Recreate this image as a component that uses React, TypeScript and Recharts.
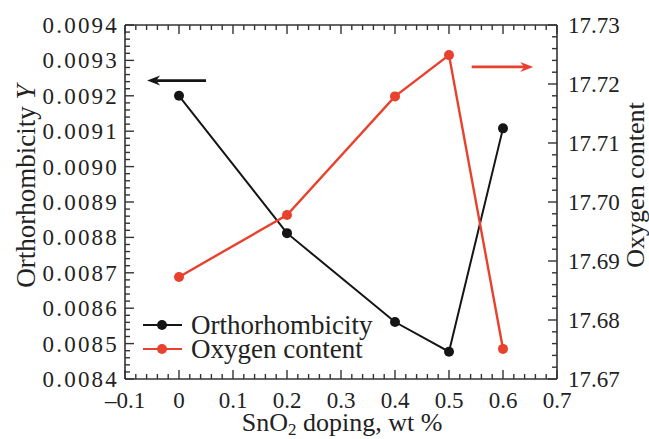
import React from 'react';
import { LineChart, Line, XAxis, YAxis, ReferenceLine, Legend } from 'recharts';

// ---- data ----
const dopingWt = [0, 0.2, 0.4, 0.5, 0.6];
const orthorhombicity = [0.0092, 0.008812, 0.008561, 0.008477, 0.009108];
const oxygenContent = [17.6873, 17.6978, 17.7179, 17.7249, 17.6751];

// ---- tick labels ----
const xMajorTicks = [-0.1, 0, 0.1, 0.2, 0.3, 0.4, 0.5, 0.6, 0.7];
const xTickLabels = ['\u20130.1', '0', '0.1', '0.2', '0.3', '0.4', '0.5', '0.6', '0.7'];
const leftMajorTicks = [0.0084, 0.0085, 0.0086, 0.0087, 0.0088, 0.0089, 0.009, 0.0091, 0.0092, 0.0093, 0.0094];
const leftTickLabels = ['0.0084', '0.0085', '0.0086', '0.0087', '0.0088', '0.0089', '0.0090', '0.0091', '0.0092', '0.0093', '0.0094'];
const rightMajorTicks = [17.67, 17.68, 17.69, 17.7, 17.71, 17.72, 17.73];
const rightTickLabels = ['17.67', '17.68', '17.69', '17.70', '17.71', '17.72', '17.73'];

// arrows (annotation) in data coordinates
const leftArrowX = [0.05, -0.059];
const leftArrowY = 0.009243;
const rightArrowX = [0.542, 0.656];
const rightArrowY = 17.7229;

const BLACK = '#151515';
const RED = '#e8412e';
const AXIS = '#333333';
const FONT = "'Liberation Serif', 'Times New Roman', 'DejaVu Serif', serif";
const TXT: React.CSSProperties = { fontFamily: FONT };

const data = dopingWt.map((x, i) => ({ x, orth: orthorhombicity[i], oxy: oxygenContent[i] }));

const subdivide = (majors: number[], n: number) => {
  const out: number[] = [];
  for (let i = 0; i < majors.length - 1; i++) {
    for (let k = 0; k < n; k++) {
      out.push(Number((majors[i] + ((majors[i + 1] - majors[i]) * k) / n).toFixed(8)));
    }
  }
  out.push(majors[majors.length - 1]);
  return out;
};

const xTicks = subdivide(xMajorTicks, 5);
const leftTicks = subdivide(leftMajorTicks, 5);
const rightTicks = subdivide(rightMajorTicks, 5);

const majorIndex = (majors: number[], v: number) => majors.findIndex((m) => Math.abs(m - v) < 1e-9);

const BottomTick = (props: any) => {
  const { x, y, payload } = props;
  const idx = majorIndex(xMajorTicks, payload.value);
  const len = idx >= 0 ? 9 : 5;
  return (
    <g>
      <line x1={x} x2={x} y1={y} y2={y - len} stroke={AXIS} strokeWidth={1.4} />
      {idx >= 0 && (
        <text x={x} y={y + 29} textAnchor="middle" fontSize={23} style={TXT} fill="#222">
          {xTickLabels[idx]}
        </text>
      )}
    </g>
  );
};

const TopTick = (props: any) => {
  const { x, y, payload } = props;
  const idx = majorIndex(xMajorTicks, payload.value);
  const len = idx >= 0 ? 9 : 5;
  return <line x1={x} x2={x} y1={y} y2={y + len} stroke={AXIS} strokeWidth={1.4} />;
};

const LeftTick = (props: any) => {
  const { x, y, payload } = props;
  const idx = majorIndex(leftMajorTicks, payload.value);
  const len = idx >= 0 ? 9 : 5;
  return (
    <g>
      <line x1={x} x2={x + len} y1={y} y2={y} stroke={AXIS} strokeWidth={1.4} />
      {idx >= 0 && (
        <text x={x - 6} y={y + 8} textAnchor="end" fontSize={23} style={{ ...TXT, letterSpacing: 2.2 }} fill="#222">
          {leftTickLabels[idx]}
        </text>
      )}
    </g>
  );
};

const RightTick = (props: any) => {
  const { x, y, payload } = props;
  const idx = majorIndex(rightMajorTicks, payload.value);
  const len = idx >= 0 ? 9 : 5;
  return (
    <g>
      <line x1={x} x2={x - len} y1={y} y2={y} stroke={AXIS} strokeWidth={1.4} />
      {idx >= 0 && (
        <text x={x + 11} y={y + 8} textAnchor="start" fontSize={23} style={TXT} fill="#222">
          {rightTickLabels[idx]}
        </text>
      )}
    </g>
  );
};

const arrowShape = (color: string) => (props: any) => {
  const { x1, y1, x2, y2 } = props;
  if (x1 == null || x2 == null) return <g />;
  const dx = x2 - x1;
  const dy = y2 - y1;
  const L = Math.sqrt(dx * dx + dy * dy) || 1;
  const ux = dx / L;
  const uy = dy / L;
  const px = -uy;
  const py = ux;
  const head = 13;
  const half = 5;
  const notch = 4;
  const bx = x2 - ux * head;
  const by = y2 - uy * head;
  const pts = [
    [x2, y2],
    [bx + px * half, by + py * half],
    [x2 - ux * (head - notch), y2 - uy * (head - notch)],
    [bx - px * half, by - py * half],
  ]
    .map((p) => p.join(','))
    .join(' ');
  return (
    <g>
      <line x1={x1} y1={y1} x2={x2 - ux * (head - notch)} y2={y2 - uy * (head - notch)} stroke={color} strokeWidth={2.6} />
      <polygon points={pts} fill={color} />
    </g>
  );
};

const LegendContent = () => (
  <svg width={260} height={56} style={{ display: 'block', overflow: 'visible' }}>
    <line x1={3} x2={42} y1={15} y2={15} stroke={BLACK} strokeWidth={2.2} />
    <circle cx={22} cy={15} r={5} fill={BLACK} />
    <text x={51} y={24} fontSize={27} style={TXT} fill="#222">Orthorhombicity</text>
    <line x1={3} x2={42} y1={39} y2={39} stroke={RED} strokeWidth={2.2} />
    <circle cx={22} cy={39} r={5} fill={RED} />
    <text x={51} y={48} fontSize={27} style={TXT} fill="#222">Oxygen content</text>
  </svg>
);

const YLeftTitle = () => (
  <text x={35} y={186} transform="rotate(-90, 35, 186)" textAnchor="middle" fontSize={27} style={TXT} fill="#222">
    Orthorhombicity <tspan fontStyle="italic">Y</tspan>
  </text>
);

const YRightTitle = () => (
  <text x={644} y={185} transform="rotate(-90, 644, 185)" textAnchor="middle" fontSize={26} style={TXT} fill="#222">
    Oxygen content
  </text>
);

const XTitle = () => (
  <text x={342} y={431} textAnchor="middle" fontSize={26} style={TXT} fill="#222">
    SnO<tspan fontSize={17} dy={4}>2</tspan>
    <tspan dy={-4}> doping, wt %</tspan>
  </text>
);

export default function App() {
  return (
    <div style={{ position: 'absolute', left: 0, top: 0, width: 649, height: 439, background: '#fff' }}>
      <LineChart width={649} height={439} data={data} margin={{ top: 0, right: 0, bottom: 0, left: 0 }}>
        <XAxis
          xAxisId="bottom"
          dataKey="x"
          type="number"
          domain={[-0.1, 0.7]}
          ticks={xTicks}
          interval={0}
          allowDataOverflow
          orientation="bottom"
          height={60}
          tickSize={0}
          tickMargin={0}
          tickLine={false}
          axisLine={{ stroke: AXIS, strokeWidth: 1.6 }}
          tick={<BottomTick />}
          label={{ content: () => <XTitle /> }}
        />
        <XAxis
          xAxisId="top"
          dataKey="x"
          type="number"
          domain={[-0.1, 0.7]}
          ticks={xTicks}
          interval={0}
          allowDataOverflow
          orientation="top"
          height={25}
          tickSize={0}
          tickMargin={0}
          tickLine={false}
          axisLine={{ stroke: AXIS, strokeWidth: 1.6 }}
          tick={<TopTick />}
        />
        <YAxis
          yAxisId="left"
          type="number"
          domain={[0.0084, 0.0094]}
          ticks={leftTicks}
          interval={0}
          allowDataOverflow
          orientation="left"
          width={125}
          tickSize={0}
          tickMargin={0}
          tickLine={false}
          axisLine={{ stroke: AXIS, strokeWidth: 1.6 }}
          tick={<LeftTick />}
          label={{ content: () => <YLeftTitle /> }}
        />
        <YAxis
          yAxisId="right"
          type="number"
          domain={[17.67, 17.73]}
          ticks={rightTicks}
          interval={0}
          allowDataOverflow
          orientation="right"
          width={92}
          tickSize={0}
          tickMargin={0}
          tickLine={false}
          axisLine={{ stroke: AXIS, strokeWidth: 1.6 }}
          tick={<RightTick />}
          label={{ content: () => <YRightTitle /> }}
        />
        <ReferenceLine
          xAxisId="bottom"
          yAxisId="left"
          segment={[
            { x: leftArrowX[0], y: leftArrowY },
            { x: leftArrowX[1], y: leftArrowY },
          ]}
          shape={arrowShape(BLACK)}
        />
        <ReferenceLine
          xAxisId="bottom"
          yAxisId="right"
          segment={[
            { x: rightArrowX[0], y: rightArrowY },
            { x: rightArrowX[1], y: rightArrowY },
          ]}
          shape={arrowShape(RED)}
        />
        <Line
          xAxisId="bottom"
          yAxisId="left"
          dataKey="orth"
          name="Orthorhombicity"
          type="linear"
          stroke={BLACK}
          strokeWidth={2}
          dot={{ r: 5, fill: BLACK, stroke: BLACK, strokeWidth: 0 }}
          activeDot={false}
          isAnimationActive={false}
        />
        <Line
          xAxisId="bottom"
          yAxisId="right"
          dataKey="oxy"
          name="Oxygen content"
          type="linear"
          stroke={RED}
          strokeWidth={2.4}
          dot={{ r: 5, fill: RED, stroke: RED, strokeWidth: 0 }}
          activeDot={false}
          isAnimationActive={false}
        />
        <Legend
          layout="vertical"
          align="center"
          verticalAlign="middle"
          content={<LegendContent />}
          wrapperStyle={{ position: 'absolute', left: 140, top: 310, width: 260, height: 56 }}
        />
      </LineChart>
    </div>
  );
}
